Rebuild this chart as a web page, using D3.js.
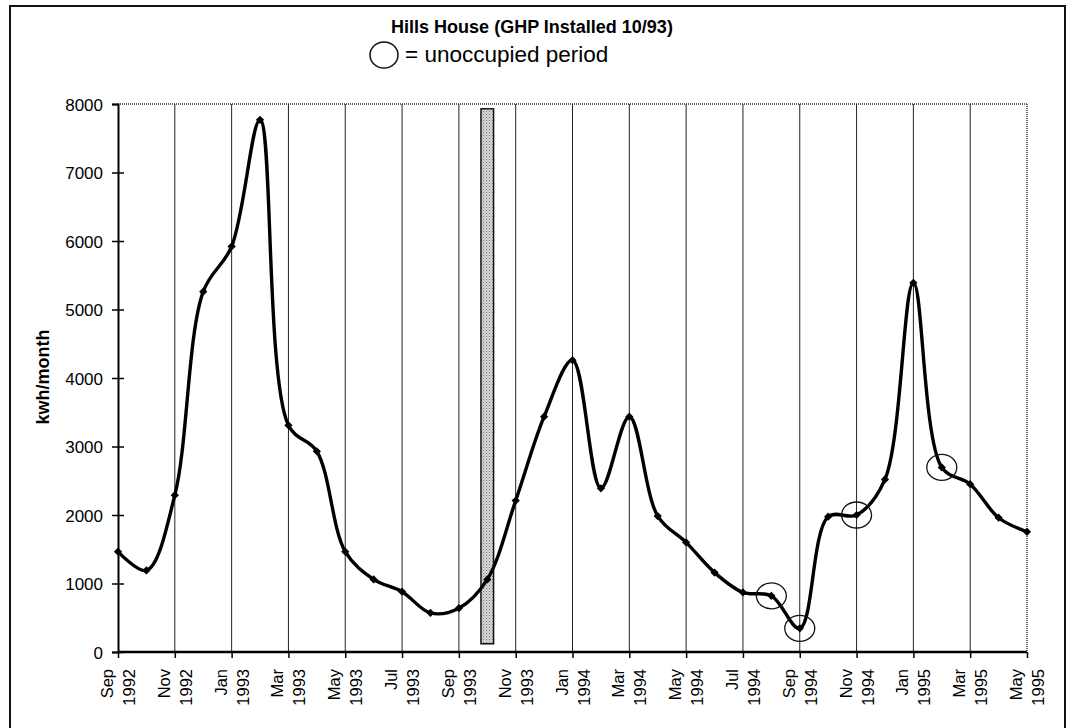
<!DOCTYPE html>
<html><head><meta charset="utf-8">
<script src="https://cdn.jsdelivr.net/npm/d3@7"></script>
<style>
html,body{margin:0;padding:0;background:#fff;}
svg{display:block;font-family:"Liberation Sans",Arial,Helvetica,sans-serif;}
</style></head>
<body>
<svg id="chart" width="1069" height="728"></svg>
<script>
const months = ["Sep 1992","Oct 1992","Nov 1992","Dec 1992","Jan 1993","Feb 1993","Mar 1993","Apr 1993","May 1993","Jun 1993","Jul 1993","Aug 1993","Sep 1993","Oct 1993","Nov 1993","Dec 1993","Jan 1994","Feb 1994","Mar 1994","Apr 1994","May 1994","Jun 1994","Jul 1994","Aug 1994","Sep 1994","Oct 1994","Nov 1994","Dec 1994","Jan 1995","Feb 1995","Mar 1995","Apr 1995","May 1995"];
const kwh = [1465,1190,2290,5260,5920,7770,3310,2930,1465,1060,880,570,640,1060,2210,3435,4260,2390,3435,1985,1600,1160,870,820,345,1975,2000,2520,5390,2695,2450,1960,1755];
const unoccupied = ["Aug 1994","Sep 1994","Nov 1994","Feb 1995"];
const tickLabels = ["Sep 1992","Nov 1992","Jan 1993","Mar 1993","May 1993","Jul 1993","Sep 1993","Nov 1993","Jan 1994","Mar 1994","May 1994","Jul 1994","Sep 1994","Nov 1994","Jan 1995","Mar 1995","May 1995"];
const yTicks = [0,1000,2000,3000,4000,5000,6000,7000,8000];
const installMonth = "Oct 1993";
const installBar = [120, 7930];
const title = "Hills House (GHP Installed 10/93)";
const legendText = "= unoccupied period";
const yLabel = "kwh/month";

const svg = d3.select("#chart");
const L = 118, R = 1027, T = 104, B = 652;
const x = d3.scalePoint().domain(months).range([L, R]);
const y = d3.scaleLinear().domain([0, 8000]).range([B, T]);

// stipple pattern for the install bar
const defs = svg.append("defs");
const pat = defs.append("pattern").attr("id","stip").attr("width",3).attr("height",3)
  .attr("patternUnits","userSpaceOnUse");
pat.append("rect").attr("width",3).attr("height",3).attr("fill","#d8d8d8");
pat.append("rect").attr("width",1).attr("height",1).attr("fill","#777");
pat.append("rect").attr("x",1.5).attr("y",1.5).attr("width",1).attr("height",1).attr("fill","#999");

// outer frame
svg.append("rect").attr("x",10).attr("y",6).attr("width",1055).attr("height",740)
  .attr("fill","none").attr("stroke","#111").attr("stroke-width",2);

// top dotted border and right dotted border
svg.append("line").attr("x1",L).attr("x2",R).attr("y1",y(8000)).attr("y2",y(8000))
  .attr("stroke","#333").attr("stroke-width",1.5).attr("stroke-dasharray","1,1");
svg.append("line").attr("x1",R).attr("x2",R).attr("y1",y(8000)).attr("y2",B)
  .attr("stroke","#333").attr("stroke-width",1.5).attr("stroke-dasharray","1,1");

// vertical gridlines
svg.append("g").selectAll("line").data(tickLabels.slice(1, -1)).join("line")
  .attr("x1",d=>x(d)).attr("x2",d=>x(d)).attr("y1",y(8000)).attr("y2",B)
  .attr("stroke","#222").attr("stroke-width",1);

// install bar
const bw = 12.6;
svg.append("rect").attr("x",x(installMonth)-bw/2).attr("width",bw)
  .attr("y",y(installBar[1])).attr("height",y(installBar[0])-y(installBar[1]))
  .attr("fill","url(#stip)").attr("stroke","#111").attr("stroke-width",1.5);

// y axis
const yAxis = svg.append("g").attr("transform",`translate(${L},0)`)
  .call(d3.axisLeft(y).tickValues(yTicks).tickSize(6).tickPadding(9).tickFormat(d3.format("d")));
yAxis.select(".domain").attr("stroke","#000").attr("stroke-width",2);
yAxis.selectAll(".tick line").attr("x2",6).attr("x1",-6).attr("stroke","#000").attr("stroke-width",1.5);
yAxis.selectAll(".tick text").attr("font-size",17).attr("fill","#000").attr("dy","0.36em");
yAxis.select(".tick:last-of-type line").attr("x2",0);

// x axis
const xAxis = svg.append("g").attr("transform",`translate(0,${B})`)
  .call(d3.axisBottom(x).tickValues(tickLabels).tickSize(6).tickFormat(""));
xAxis.select(".domain").attr("stroke","#000").attr("stroke-width",2.5).attr("d",`M${L},0H${R}`);
xAxis.selectAll(".tick line").attr("stroke","#000").attr("stroke-width",1.5);

// x labels rotated two lines
const xl = svg.append("g");
tickLabels.forEach(m => {
  const [mon, yr] = m.split(" ");
  const g = xl.append("g").attr("transform",`translate(${x(m)},${669}) rotate(-90)`);
  g.append("text").attr("text-anchor","end").attr("x",0).attr("y",-5)
    .attr("font-size",16.5).attr("fill","#000").text(mon);
  g.append("text").attr("text-anchor","end").attr("x",0).attr("y",17)
    .attr("font-size",16.5).attr("fill","#000").text(yr);
});

// line
const pts = months.map((m,i)=>[x(m), y(kwh[i])]);
svg.append("path").datum(pts)
  .attr("d", d3.line().curve(d3.curveCatmullRom.alpha(0.5)))
  .attr("fill","none").attr("stroke","#000").attr("stroke-width",3.4).attr("stroke-linejoin","round");

// diamond markers
svg.append("g").selectAll("path").data(pts).join("path")
  .attr("transform",d=>`translate(${d[0]},${d[1]}) rotate(45)`)
  .attr("d", d3.symbol().type(d3.symbolSquare).size(34))
  .attr("fill","#000");

// unoccupied circles
svg.append("g").selectAll("ellipse").data(unoccupied).join("ellipse")
  .attr("cx",d=>x(d)).attr("cy",d=>y(kwh[months.indexOf(d)]))
  .attr("rx",15).attr("ry",13).attr("fill","none").attr("stroke","#111").attr("stroke-width",1.3);

// title
svg.append("text").attr("x",532).attr("y",33).attr("text-anchor","middle")
  .attr("font-size",18).attr("font-weight","bold").attr("fill","#000").text(title);

// legend
svg.append("ellipse").attr("cx",384).attr("cy",55).attr("rx",14).attr("ry",13)
  .attr("fill","none").attr("stroke","#111").attr("stroke-width",1.5);
svg.append("text").attr("x",405).attr("y",62).attr("font-size",22.5).attr("fill","#000").text(legendText);

// y label
svg.append("text").attr("transform",`translate(49,377) rotate(-90)`).attr("text-anchor","middle")
  .attr("font-size",18).attr("font-weight","bold").attr("fill","#000").text(yLabel);
</script>
</body></html>
